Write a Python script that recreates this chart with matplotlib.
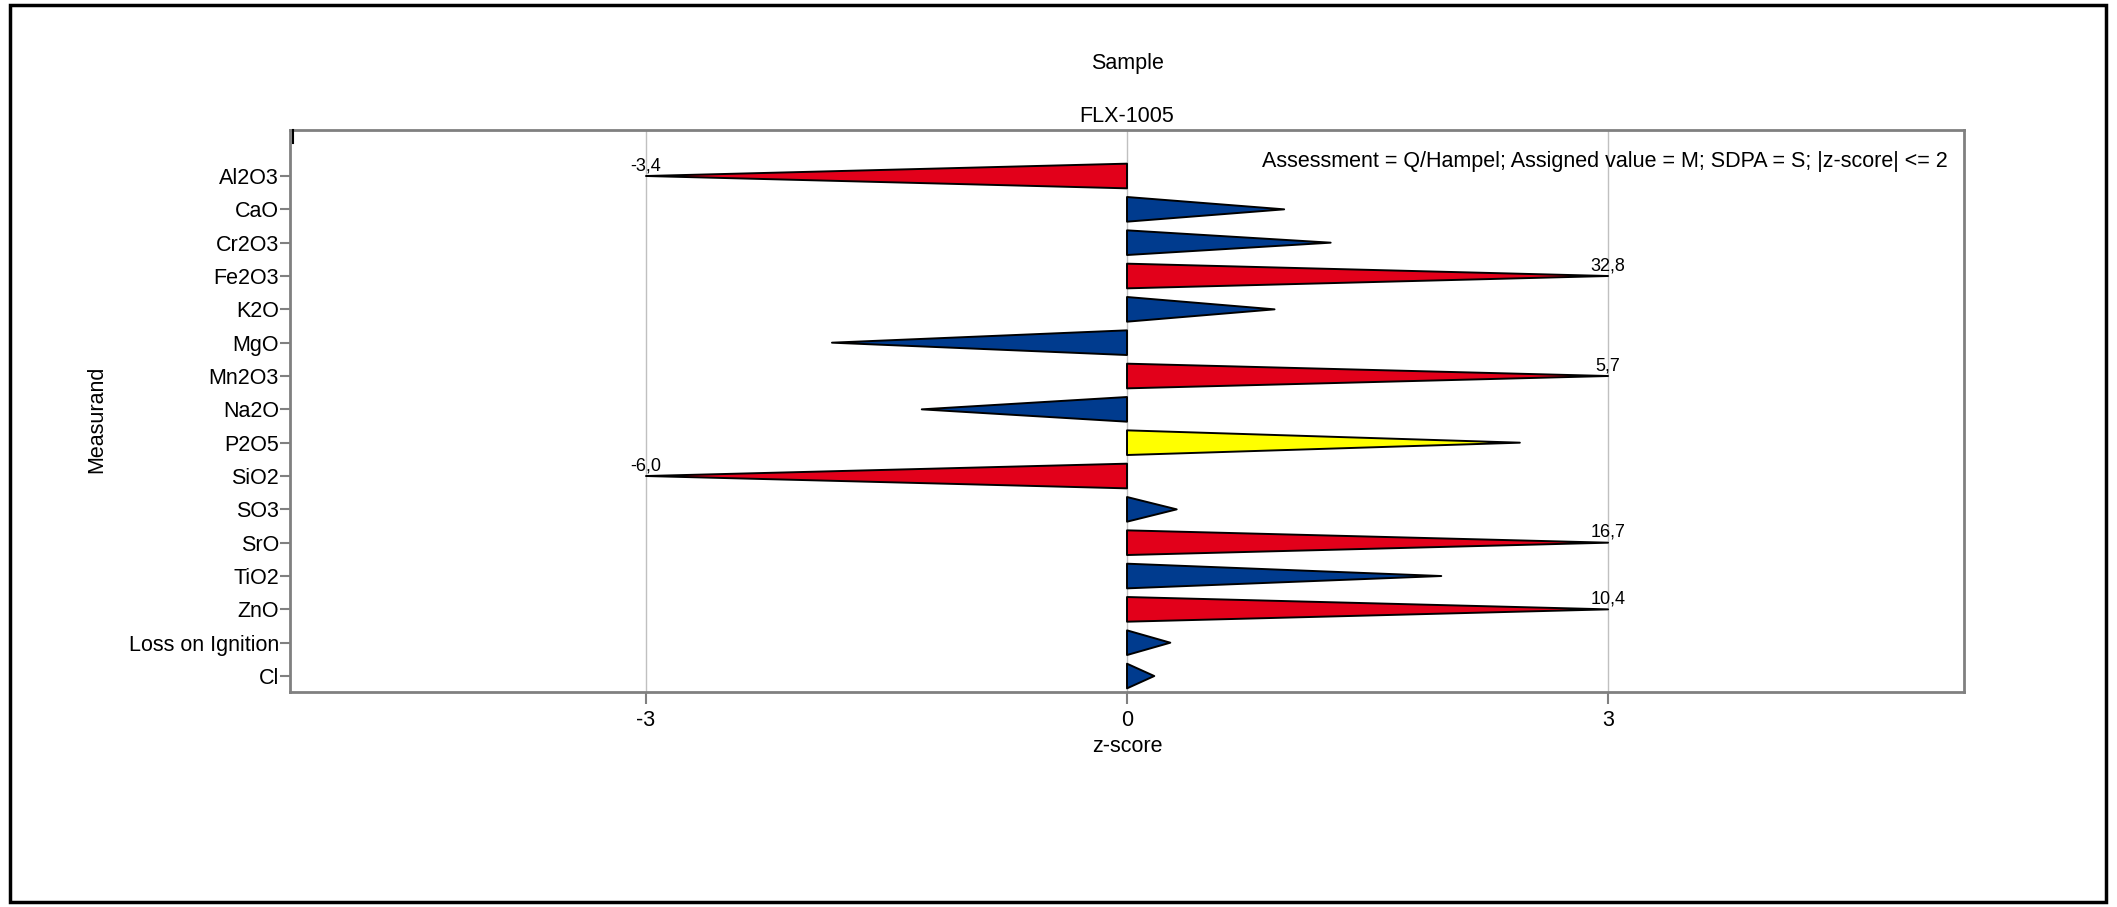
import matplotlib
matplotlib.use("Agg")
import matplotlib.pyplot as plt
from matplotlib.patches import Rectangle

plt.rcParams['font.family'] = ['Liberation Sans', 'DejaVu Sans']

# ---- data ----
measurands = ["Al2O3", "CaO", "Cr2O3", "Fe2O3", "K2O", "MgO", "Mn2O3", "Na2O",
              "P2O5", "SiO2", "SO3", "SrO", "TiO2", "ZnO", "Loss on Ignition", "Cl"]
z_scores = [-3.4, 0.98, 1.27, 32.8, 0.92, -1.84, 5.7, -1.28,
            2.45, -6.0, 0.31, 16.7, 1.96, 10.4, 0.27, 0.17]
x_ticks = [-3, 0, 3]
sample_label = "Sample"
sample_name = "FLX-1005"
note = "Assessment = Q/Hampel; Assigned value = M; SDPA = S; |z-score| <= 2"

# ---- style ----
RED, BLUE, YELLOW = "#E2001A", "#003B8E", "#FFFF00"
CLIP = 3.0
HALF = 0.37
FS = 15.5

fig = plt.figure(figsize=(21.17, 9.07), dpi=100)
fig.patch.set_facecolor("white")
# outer frame
fig.add_artist(Rectangle((0.0045, 0.0050), 0.9905, 0.9890, transform=fig.transFigure,
                         fill=False, edgecolor="black", linewidth=2.5))

ax = fig.add_axes([0.13699, 0.23738, 0.79074, 0.61874])
ax.set_xlim(-5.22, 5.22)
ax.set_ylim(15.47, -1.365)

for xt in x_ticks:
    ax.axvline(xt, color="#C0C0C0", linewidth=1.0, zorder=0)

for i, z in enumerate(z_scores):
    v = max(-CLIP, min(CLIP, z))
    a = abs(z)
    color = BLUE if a <= 2 else (YELLOW if a < 3 else RED)
    ax.fill([0, 0, v], [i - HALF, i + HALF, i], facecolor=color, edgecolor="black",
            linewidth=1.4, joinstyle="round", zorder=3)
    if a > CLIP:
        ax.annotate(f"{z:.1f}".replace(".", ","), xy=(v, i), xytext=(0, 6),
                    textcoords="offset pixels", ha="center", va="baseline",
                    fontsize=13, zorder=4)

ax.set_yticks(range(len(measurands)))
ax.set_yticklabels(measurands, fontsize=FS)
ax.set_xticks(x_ticks)
ax.set_xticklabels([str(t) for t in x_ticks], fontsize=FS)
ax.tick_params(axis="y", direction="out", length=7, width=1.5, color="#808080", pad=1)
ax.tick_params(axis="x", direction="out", length=8.5, width=1.5, color="#808080", pad=4.5)
for s in ax.spines.values():
    s.set_color("#808080")
    s.set_linewidth(2.0)

# small mark at top of left spine
ax.plot([0.0015, 0.0015], [1.0, 0.977], transform=ax.transAxes, color="black",
        linewidth=1.5, clip_on=False, zorder=5)

cx = 0.13699 + 0.79074 / 2
fig.text(cx, 1 - 63 / 907, sample_label, ha="center", va="center", fontsize=FS)
fig.text(cx, 1 - 117 / 907, sample_name, ha="center", va="center", fontsize=FS)
fig.text(cx, 1 - 747 / 907, "z-score", ha="center", va="center", fontsize=FS)
fig.text(97 / 2117, 1 - 419 / 907, "Measurand", ha="center", va="center",
         rotation=90, fontsize=FS)
fig.text(1948 / 2117, 1 - 161 / 907, note, ha="right", va="center", fontsize=FS)

fig.savefig("out.png", dpi=100, facecolor="white")
